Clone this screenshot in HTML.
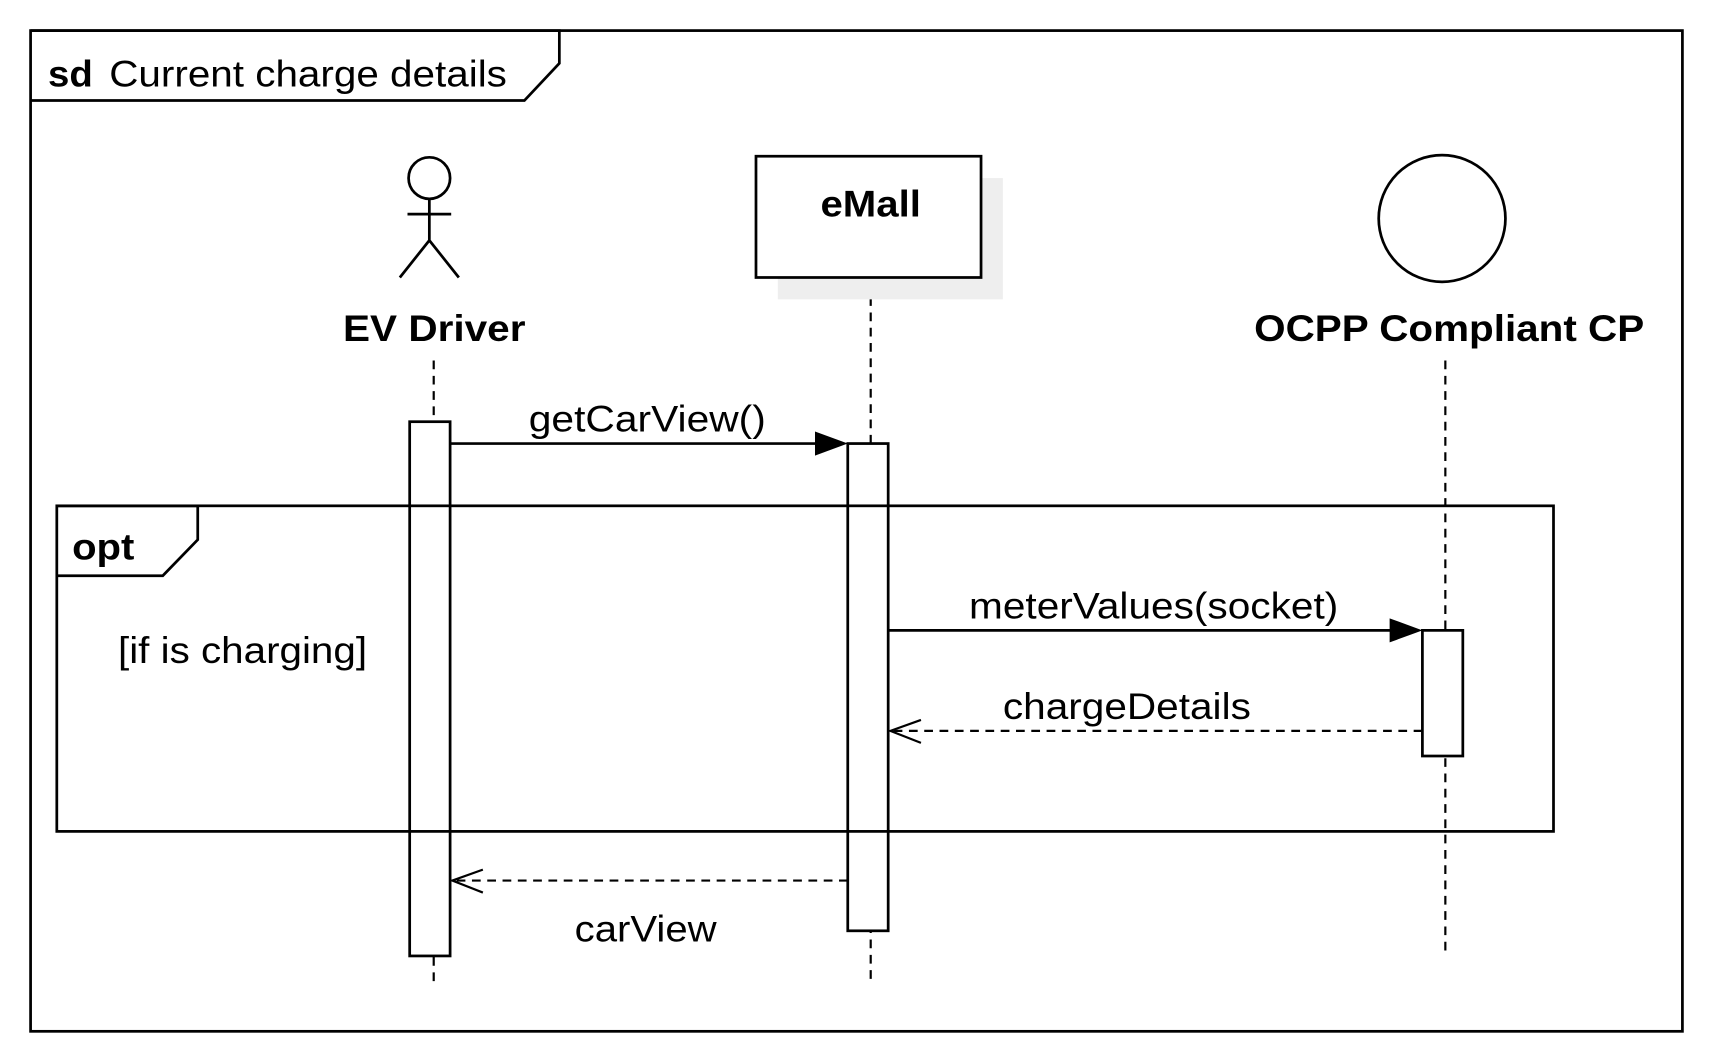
<!DOCTYPE html>
<html><head><meta charset="utf-8"><style>html,body{margin:0;padding:0;background:#fff}svg{display:block}</style></head>
<body>
<svg width="1713" height="1063" viewBox="0 0 1568 973" preserveAspectRatio="none" xmlns="http://www.w3.org/2000/svg" font-family="Liberation Sans, Arial, sans-serif">
<rect x="0" y="0" width="1568" height="973" fill="#fff"/>
<g stroke="#000" stroke-width="2.5" fill="none">
<rect x="28" y="28" width="1512" height="916"/>
<path d="M28 28 H512 V58 L480 92 H28"/>
<circle cx="393" cy="163" r="19"/>
<path d="M393 182 V220 M373 196 H413 M393 220 L366 254 M393 220 L420 254"/>
<g stroke-dasharray="8,6" stroke-width="2">
<line x1="397" y1="330" x2="397" y2="898"/>
<line x1="797" y1="258" x2="797" y2="900"/>
<line x1="1323" y1="330" x2="1323" y2="870"/>
</g>
</g>
<rect x="712" y="163" width="206" height="111" fill="#eeeeee"/>
<rect x="692" y="143" width="206" height="111" fill="#fff" stroke="#000" stroke-width="2.5"/>
<circle cx="1320" cy="200" r="58" fill="#fff" stroke="#000" stroke-width="2.5"/>
<g stroke="#000" stroke-width="2.5" fill="#fff">
<rect x="375" y="386" width="37" height="489"/>
<rect x="776" y="406" width="37" height="446"/>
<rect x="1302" y="577" width="37" height="115"/>
</g>
<g stroke="#000" stroke-width="2.5" fill="none">
<rect x="52" y="463" width="1370" height="298"/>
<path d="M52 463 H181 V494 L149 527 H52"/>
<line x1="412" y1="406" x2="750" y2="406"/>
<line x1="813" y1="577" x2="1276" y2="577"/>
<line x1="1302" y1="669" x2="815" y2="669" stroke-dasharray="8,6" stroke-width="2"/>
<path d="M843 659 L815 669 L843 680" stroke-width="2"/>
<line x1="776" y1="806" x2="414" y2="806" stroke-dasharray="8,6" stroke-width="2"/>
<path d="M442 796 L414 806 L442 817" stroke-width="2"/>
</g>
<path d="M746 395 L776 406 L746 417 Z" fill="#000"/>
<path d="M1272 566 L1302 577 L1272 588 Z" fill="#000"/>
<g fill="#000" font-size="34" lengthAdjust="spacingAndGlyphs">
<text x="44" y="79" font-weight="bold" textLength="41" lengthAdjust="spacingAndGlyphs">sd</text>
<text x="100" y="79" textLength="364" lengthAdjust="spacingAndGlyphs">Current charge details</text>
<text x="314" y="312" font-weight="bold" textLength="167" lengthAdjust="spacingAndGlyphs">EV Driver</text>
<text x="751" y="198" font-weight="bold" textLength="92" lengthAdjust="spacingAndGlyphs">eMall</text>
<text x="1148" y="312" font-weight="bold" textLength="357" lengthAdjust="spacingAndGlyphs">OCPP Compliant CP</text>
<text x="66" y="512" font-weight="bold" textLength="57" lengthAdjust="spacingAndGlyphs">opt</text>
<text x="108" y="607" textLength="228" lengthAdjust="spacingAndGlyphs">[if is charging]</text>
<text x="484" y="395" textLength="217" lengthAdjust="spacingAndGlyphs">getCarView()</text>
<text x="887" y="566" textLength="338" lengthAdjust="spacingAndGlyphs">meterValues(socket)</text>
<text x="918" y="658" textLength="227" lengthAdjust="spacingAndGlyphs">chargeDetails</text>
<text x="526" y="862" textLength="130" lengthAdjust="spacingAndGlyphs">carView</text>
</g>
</svg>
</body></html>
